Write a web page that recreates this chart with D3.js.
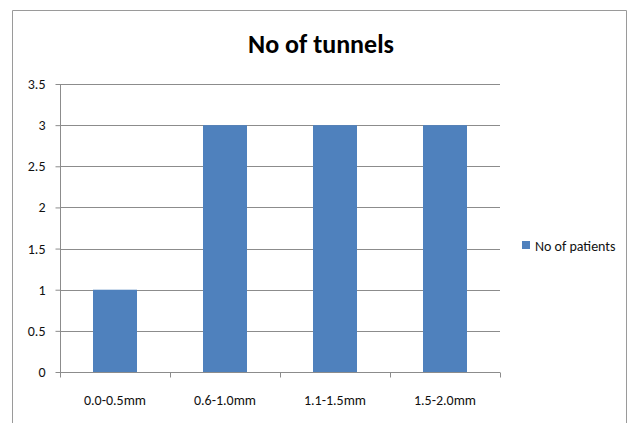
<!DOCTYPE html>
<html>
<head>
<meta charset="utf-8">
<script src="https://cdn.jsdelivr.net/npm/d3@7"></script>
<style>
  html, body { margin: 0; padding: 0; background: #fff; }
  svg { display: block; font-family: Carlito, Lato, "Open Sans", sans-serif; }
</style>
</head>
<body>
<svg id="chart" width="631" height="423"></svg>
<script>
// Tunnel-size categories and patient counts
const categories = ["0.0-0.5mm", "0.6-1.0mm", "1.1-1.5mm", "1.5-2.0mm"];
const patients = [1, 3, 3, 3];
const yTicks = [0, 0.5, 1, 1.5, 2, 2.5, 3, 3.5];
const yTickLabels = ["0", "0.5", "1", "1.5", "2", "2.5", "3", "3.5"];
const seriesName = "No of patients";
const chartTitle = "No of tunnels";

const svg = d3.select("#chart");
const W = 631, H = 423;
const plot = { left: 60, right: 500, top: 84, bottom: 372 };
const barColor = "#4F81BD";
const lineColor = "#8c8c8c";
const textColor = "#111";

// Outer chart frame (open at the bottom edge)
svg.append("path")
  .attr("d", `M12.5,${H} V10.5 H626.5 V${H}`)
  .attr("fill", "none")
  .attr("stroke", "#9a9a9a")
  .attr("stroke-width", 1);

const x = d3.scaleBand().domain(categories).range([plot.left, plot.right]).padding(0);
const y = d3.scaleLinear().domain([0, 3.5]).range([plot.bottom, plot.top]);

// Horizontal gridlines
svg.append("g")
  .selectAll("line")
  .data(yTicks.filter(d => d > 0))
  .join("line")
  .attr("x1", plot.left).attr("x2", plot.right)
  .attr("y1", d => Math.round(y(d)) + 0.5).attr("y2", d => Math.round(y(d)) + 0.5)
  .attr("stroke", lineColor).attr("stroke-width", 1);

// Bars
svg.append("g")
  .selectAll("rect")
  .data(categories.map((c, i) => ({ c, v: patients[i] })))
  .join("rect")
  .attr("x", d => x(d.c) + x.bandwidth() * 0.3)
  .attr("width", x.bandwidth() * 0.4)
  .attr("y", d => y(d.v))
  .attr("height", d => y(0) - y(d.v))
  .attr("fill", barColor);

// Y axis
const yAxis = d3.axisLeft(y)
  .tickValues(yTicks)
  .tickFormat((d, i) => yTickLabels[i])
  .tickSize(5)
  .tickPadding(10);
const gy = svg.append("g")
  .attr("transform", `translate(${plot.left + 0.5},0)`)
  .call(yAxis);
gy.select(".domain").attr("stroke", lineColor).attr("d", `M0,${plot.top}V${plot.bottom}`);
gy.selectAll(".tick line").attr("stroke", lineColor);
gy.selectAll(".tick text")
  .attr("fill", textColor)
  .style("font-size", "14px")
  .style("font-family", "Carlito, Lato, sans-serif");

// X axis baseline with boundary ticks
const gx = svg.append("g").attr("transform", `translate(0,${Math.round(y(0)) + 0.5})`);
gx.append("line")
  .attr("x1", plot.left).attr("x2", plot.right)
  .attr("stroke", lineColor);
const boundaries = categories.map(c => x(c)).concat([x(categories[categories.length - 1]) + x.bandwidth()]);
gx.selectAll("line.tick")
  .data(boundaries)
  .join("line")
  .attr("class", "tick")
  .attr("x1", d => Math.round(d) + 0.5).attr("x2", d => Math.round(d) + 0.5)
  .attr("y1", 0).attr("y2", 5)
  .attr("stroke", lineColor);
gx.selectAll("text")
  .data(categories)
  .join("text")
  .attr("x", d => x(d) + x.bandwidth() / 2)
  .attr("y", 32)
  .attr("text-anchor", "middle")
  .attr("fill", textColor)
  .style("font-size", "14px")
  .text(d => d);

// Title
svg.append("text")
  .attr("x", 321)
  .attr("y", 53)
  .attr("text-anchor", "middle")
  .attr("fill", "#000")
  .style("font-size", "26px")
  .style("font-weight", "bold")
  .text(chartTitle);

// Legend
const lg = svg.append("g").attr("transform", "translate(522,241)");
lg.append("rect").attr("width", 8).attr("height", 8).attr("fill", barColor);
lg.append("text")
  .attr("x", 13).attr("y", 10)
  .attr("fill", textColor)
  .style("font-size", "14px")
  .text(seriesName);
</script>
</body>
</html>
